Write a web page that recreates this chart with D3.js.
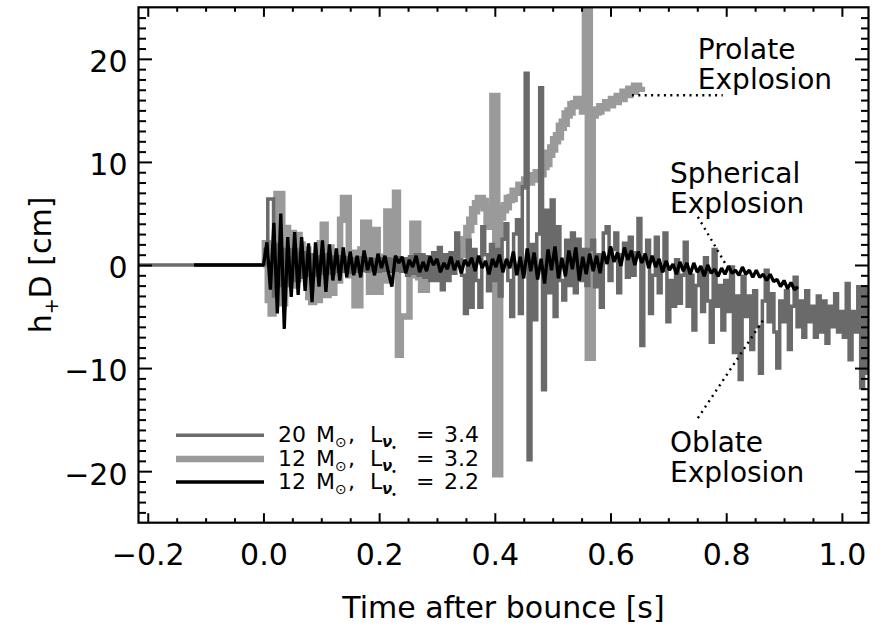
<!DOCTYPE html>
<html>
<head>
<meta charset="utf-8">
<script src="https://cdn.jsdelivr.net/npm/d3@7"></script>
<style>
  html, body { margin: 0; padding: 0; background: #fff; }
  svg { display: block; }
  text { font-family: "DejaVu Sans", sans-serif; fill: #000; }
</style>
</head>
<body>
<svg id="chart" width="884" height="626"></svg>
<script>
// ---------------------------------------------------------------
// Gravitational-wave strain h+D [cm] vs. time after bounce [s]
// ---------------------------------------------------------------

// Axis ranges and labelled ticks
const xDomain = [-0.216, 1.046];
const yDomain = [-25, 25];
const xTickValues = [-0.2, 0.0, 0.2, 0.4, 0.6, 0.8, 1.0];
const yTickValues = [-20, -10, 0, 10, 20];

// Model names shown in the legend
const modelMass = ["20", "12", "12"];
const modelLum = ["3.4", "3.2", "2.2"];

// 12 Msun, L = 3.2 (prolate explosion): samples every 5 ms from bounce
const prolateStart = 0.0, prolateStep = 0.005;
const prolateH = [
  0, 2.1, -3.4, -4.7, 1.0, 6.9, 6.9, -3.7, 3.6, -1.5,
  3.1, -2.0, 2.9, 2.0, -1.0, 1.5, -3.1, -3.6, 0.5, -3.4,
  2.1, 3.9, -2.9, 1.7, -2.7, 1.0, -1.5, 4.4, 6.5, 6.5,
  -1.0, 1.2, -3.9, -3.9, 1.5, 4.1, 4.1, -2.6, 1.0, 3.4,
  -2.6, 0.8, -1.5, 5.2, 5.2, 0.5, 7.0, -8.7, -5.0, -5.0,
  -5.0, -1.0, 4.0, 4.0, -1.2, -2.4, -2.4, -0.8, -0.5, -0.6,
  -0.4, -0.5, -0.2, -0.3, 0.0, 0.2, 0.4, 0.8, 1.1, 1.8,
  2.4, 3.5, 4.3, 5.3, 5.9, 6.4, 6.1, 5.6, 4.1, 3.8,
  16.3, -20.2, 4.7, 5.4, 5.7, 6.4, 6.5, 7.1, 7.1, 7.7,
  7.7, 8.2, 8.1, 8.6, 8.4, 8.9, 8.9, 9.6, 9.9, 10.8,
  11.3, 12.1, 12.5, 13.4, 13.8, 14.6, 14.9, 15.5, 15.6, 16.0,
  15.7, 15.0, 26.0, -8.9, 14.6, 14.9, 15.0, 15.3, 15.3, 15.7,
  15.6, 16.0, 15.9, 16.3, 16.2, 16.7, 16.6, 17.0, 16.9, 17.3,
  17.2, 17.3
];
// the growth phase of the prolate model starts at this sample
const prolateGrowthIndex = 64;

// 20 Msun, L = 3.4 (oblate explosion): samples every 5 ms from bounce
const oblateStart = 0.0, oblateStep = 0.005;
const oblatePreBounce = -0.216;
const oblateH = [
  0, 1.5, 6.4, 6.4, -3.0, 2.0, -2.0, 1.5, -2.0, 1.5,
  -1.5, 1.5, -1.5, 1.2, -1.2, 1.2, -1.0, 1.0, -1.0, 0.8,
  -0.8, 1.0, -0.8, 0.8, -0.8, 0.8, -0.6, 0.8, -0.6, 0.7,
  -0.7, 0.6, -0.6, 0.7, -0.5, 0.6, -0.6, 0.6, -0.5, 0.5,
  -0.6, 0.6, -0.5, 0.6, -0.6, 0.5, -0.5, 0.7, -0.6, 0.6,
  -1.0, 0.8, -0.8, 1.0, -1.0, 1.0, -1.2, 0.8, -1.5, 1.2,
  -1.5, 1.7, -2.4, 1.0, -1.5, 1.2, -0.8, 3.1, 0.5, -1.0,
  -4.7, 2.4, -4.1, 1.5, -1.5, -4.1, 3.7, 1.0, -2.5, 2.0,
  -1.5, 1.5, -3.0, 2.5, 4.0, -1.5, -5.0, 3.0, 4.4, -4.7,
  7.6, 18.6, -18.9, 2.0, -5.3, 3.0, 17.2, -12.1, 5.3, -2.7,
  6.3, -5.0, 3.7, -1.5, -3.4, 2.4, -2.0, 3.1, -2.7, 2.5,
  -1.5, 1.5, -2.0, 1.5, 2.4, -2.1, 1.0, -4.1, 3.1, 3.7,
  -1.5, 1.5, 3.1, -2.7, 1.0, 2.1, -1.2, 2.7, -1.0, 1.2,
  4.5, -7.8, 0.5, 2.4, -4.7, -1.0, 2.7, -2.7, -0.5, 3.1,
  -5.5, -1.5, -4.0, 0.5, -3.7, -1.0, 2.2, -4.0, -1.0, -6.3,
  -2.0, -0.5, -4.5, 0.7, -3.5, -7.5, 1.5, -4.0, -2.0, -6.3,
  -1.5, -4.5, -0.2, -8.5, -3.0, -11.1, -1.1, -5.0, -3.0, -8.2,
  -2.5, -6.0, -10.5, -3.5, -0.5, -5.5, -2.8, -6.5, -10.0, -3.5,
  -5.5, -2.5, -8.2, -4.0, -1.2, -6.0, -3.5, -7.0, -2.5, -5.5,
  -4.0, -7.0, -3.0, -6.5, -3.5, -7.6, -4.0, -6.0, -2.8, -6.5,
  -4.5, -7.0, -1.8, -9.2, -4.5, -6.5, -2.1, -11.9, -2.1, -10.5
];

// 12 Msun, L = 2.2 (spherical explosion): samples every 6 ms from bounce
const sphericalStart = 0.0, sphericalStep = 0.006;
const sphericalPreBounce = -0.12;
const sphericalH = [
  0, 2.2, -2.4, 4.1, -4.7, 5.0, -6.2, 2.7, -3.1, 3.2,
  -2.9, 2.7, -2.5, 2.1, -3.6, 2.2, -2.1, 2.4, -2.6, 2.0,
  -1.5, 1.6, -1.5, 1.7, -1.2, 1.3, -1.0, 0.9, -1.2, 1.4,
  -0.5, 0.7, -1.0, 1.1, -0.3, 0.9, -0.7, -2.1, 0.9, 0.2,
  0.8, -0.8, 0.5, -0.2, 0.9, -0.7, 0.3, -0.6, 0.8, 0.0,
  0.6, -0.7, 0.2, -0.4, 0.8, -0.5, 0.4, -0.8, 0.5, -0.1,
  0.7, -0.6, 0.9, -0.3, 0.4, -0.9, 0.6, -0.2, 1.0, -0.7,
  0.6, -0.3, 1.3, -1.0, 0.8, -1.3, 1.6, -0.6, 1.2, -1.4,
  0.6, -1.8, 1.5, -0.5, 1.8, -1.3, 0.7, -1.1, 1.4, -0.4,
  1.7, -1.5, 0.8, -0.9, 1.1, -0.6, 0.9, -0.8, 1.3, 0.1,
  1.8, 0.3, 1.2, -0.1, 1.7, 0.5, 1.4, 0.0, 1.3, 0.2,
  1.1, -0.3, 0.9, -0.2, 0.6, -0.7, 0.4, -0.5, 0.1, -0.9,
  0.3, -0.6, 0.2, -0.9, 0.2, -0.7, -0.1, -1.1, 0.0, -0.8,
  -0.4, -1.1, -0.3, -0.9, -0.1, -0.8, -0.5, -1.0, -0.2, -0.9,
  -0.5, -1.2, -0.5, -1.2, -0.9, -1.5, -0.9, -1.6, -1.4, -2.1,
  -1.5, -2.3, -1.7, -2.4, -2.1
];

// ---------------------------------------------------------------
const svg = d3.select("#chart");
const plot = { left: 138.5, right: 868.5, top: 7.3, bottom: 522.7 };

const x = d3.scaleLinear().domain(xDomain).range([plot.left, plot.right]);
const y = d3.scaleLinear().domain(yDomain).range([plot.bottom, plot.top]);

const colors = { oblate: "#6a6a6a", prolate: "#9a9a9a", spherical: "#000000" };
const widths = { oblate: 3.5, prolate: 6.5, spherical: 3.3 };
const prolateGrowthWidth = 8.5;

function toSeries(values, start, step, pre) {
  const pts = values.map((v, i) => ({ t: start + i * step, v }));
  if (pre !== undefined) pts.unshift({ t: pre, v: 0 });
  return pts;
}

const prolate = toSeries(prolateH, prolateStart, prolateStep);
const oblate = toSeries(oblateH, oblateStart, oblateStep, oblatePreBounce);
const spherical = toSeries(sphericalH, sphericalStart, sphericalStep, sphericalPreBounce);

svg.append("defs").append("clipPath").attr("id", "plotClip")
  .append("rect")
  .attr("x", plot.left).attr("y", plot.top)
  .attr("width", plot.right - plot.left).attr("height", plot.bottom - plot.top);

// histogram-style traces for the gray models, polyline for the black one
const stepLine = d3.line().x(d => x(d.t)).y(d => y(d.v)).curve(d3.curveStep);
const plainLine = d3.line().x(d => x(d.t)).y(d => y(d.v));

const curves = svg.append("g").attr("clip-path", "url(#plotClip)");

function trace(pts, gen, color, width, join) {
  curves.append("path").datum(pts)
    .attr("d", gen).attr("fill", "none")
    .attr("stroke", color).attr("stroke-width", width)
    .attr("stroke-linejoin", join);
}

trace(prolate.slice(0, prolateGrowthIndex + 1), stepLine, colors.prolate, widths.prolate, "miter");
trace(prolate.slice(prolateGrowthIndex), stepLine, colors.prolate, prolateGrowthWidth, "miter");
trace(oblate, stepLine, colors.oblate, widths.oblate, "miter");
trace(spherical, plainLine, colors.spherical, widths.spherical, "bevel");

// ---------------- axes ----------------
const fmtX = d3.format(".1f");
const fmtY = d3.format("d");
const xMinor = d3.range(-0.2, 1.05, 0.05).filter(v => Math.abs(v * 5 - Math.round(v * 5)) > 1e-6);
const yMinor = d3.range(-24, 25, 1).filter(v => v % 10 !== 0);

function styleAxis(g) {
  g.select(".domain").remove();
  g.selectAll(".tick line").attr("stroke", "#000").attr("stroke-width", 2);
}

// bottom
svg.append("g").attr("transform", `translate(0,${plot.bottom})`)
  .call(d3.axisBottom(x).tickValues(xTickValues).tickFormat(fmtX).tickSize(-9.5).tickPadding(21))
  .call(styleAxis)
  .call(g => g.selectAll("text").attr("font-size", 30).attr("font-family", "DejaVu Sans"));
svg.append("g").attr("transform", `translate(0,${plot.bottom})`)
  .call(d3.axisBottom(x).tickValues(xMinor).tickFormat("").tickSize(-4.5))
  .call(styleAxis);
// top
svg.append("g").attr("transform", `translate(0,${plot.top})`)
  .call(d3.axisTop(x).tickValues(xTickValues).tickFormat("").tickSize(-9.5))
  .call(styleAxis);
svg.append("g").attr("transform", `translate(0,${plot.top})`)
  .call(d3.axisTop(x).tickValues(xMinor).tickFormat("").tickSize(-4.5))
  .call(styleAxis);
// left
svg.append("g").attr("transform", `translate(${plot.left},0)`)
  .call(d3.axisLeft(y).tickValues(yTickValues).tickFormat(fmtY).tickSize(-13.5).tickPadding(11))
  .call(styleAxis)
  .call(g => g.selectAll("text").attr("font-size", 30).attr("font-family", "DejaVu Sans").attr("dy", "0.43em"));
svg.append("g").attr("transform", `translate(${plot.left},0)`)
  .call(d3.axisLeft(y).tickValues(yMinor).tickFormat("").tickSize(-7.5))
  .call(styleAxis);
// right
svg.append("g").attr("transform", `translate(${plot.right},0)`)
  .call(d3.axisRight(y).tickValues(yTickValues).tickFormat("").tickSize(-13.5))
  .call(styleAxis);
svg.append("g").attr("transform", `translate(${plot.right},0)`)
  .call(d3.axisRight(y).tickValues(yMinor).tickFormat("").tickSize(-7.5))
  .call(styleAxis);

// frame
svg.append("rect")
  .attr("x", plot.left).attr("y", plot.top)
  .attr("width", plot.right - plot.left).attr("height", plot.bottom - plot.top)
  .attr("fill", "none").attr("stroke", "#000").attr("stroke-width", 2.2);

// axis titles
svg.append("text")
  .attr("x", (plot.left + plot.right) / 2).attr("y", 618)
  .attr("text-anchor", "middle").attr("font-size", 30)
  .text("Time after bounce [s]");

const yTitle = svg.append("text")
  .attr("transform", `translate(51,${(plot.top + plot.bottom) / 2}) rotate(-90)`)
  .attr("text-anchor", "middle").attr("font-size", 30);
yTitle.append("tspan").text("h");
yTitle.append("tspan").attr("font-size", 19).attr("dy", 7).text("+");
yTitle.append("tspan").attr("dy", -7).text("D [cm]");

// ---------------- annotations ----------------
const notes = [
  { lines: ["Prolate", "Explosion"], at: [0.751, 19.94], lead: [[0.637, 16.47], [0.794, 16.47]] },
  { lines: ["Spherical", "Explosion"], at: [0.703, 8.0], lead: [[0.751, 4.66], [0.802, -0.19]] },
  { lines: ["Oblate", "Explosion"], at: [0.703, -18.11], lead: [[0.751, -14.85], [0.864, -5.34]] }
];
notes.forEach(n => {
  svg.append("line")
    .attr("x1", x(n.lead[0][0])).attr("y1", y(n.lead[0][1]))
    .attr("x2", x(n.lead[1][0])).attr("y2", y(n.lead[1][1]))
    .attr("stroke", "#000").attr("stroke-width", 2.4)
    .attr("stroke-dasharray", "2 4.4");
  const t = svg.append("text").attr("font-size", 28);
  n.lines.forEach((s, i) => {
    t.append("tspan").attr("x", x(n.at[0])).attr("y", y(n.at[1]) + i * 30).text(s);
  });
});

// ---------------- legend ----------------
const legendKeys = ["oblate", "prolate", "spherical"];
const legendLineY = [435.3, 459, 482];
const legendBase = [442, 466, 489];
legendKeys.forEach((k, i) => {
  svg.append("line")
    .attr("x1", 176).attr("x2", 264)
    .attr("y1", legendLineY[i]).attr("y2", legendLineY[i])
    .attr("stroke", colors[k]).attr("stroke-width", widths[k]);
  const b = legendBase[i];
  const t = svg.append("text").attr("font-size", 22);
  t.append("tspan").attr("x", 278).attr("y", b).text(modelMass[i]);
  t.append("tspan").attr("x", 316).attr("y", b).text("M");
  t.append("tspan").attr("x", 335).attr("y", b + 5).attr("font-size", 14).text("⊙");
  t.append("tspan").attr("x", 348).attr("y", b).text(",");
  t.append("tspan").attr("x", 370).attr("y", b).text("L");
  t.append("tspan").attr("x", 382).attr("y", b + 5).attr("font-size", 15)
    .attr("font-style", "italic").attr("font-weight", "bold").text("ν");
  t.append("tspan").attr("x", 391).attr("y", b + 9).attr("font-size", 10).text("•");
  t.append("tspan").attr("x", 416).attr("y", b).text("=");
  t.append("tspan").attr("x", 444).attr("y", b).text(modelLum[i]);
});
</script>
</body>
</html>
